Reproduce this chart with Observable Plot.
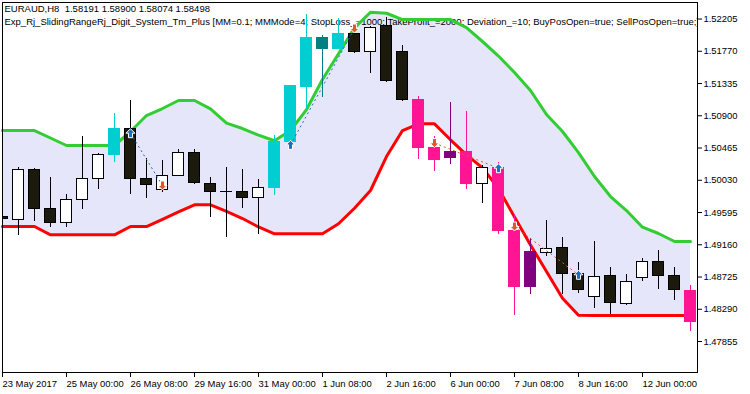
<!DOCTYPE html>
<html>
<head>
<meta charset="utf-8">
<script src="https://cdn.jsdelivr.net/npm/d3@7"></script>
<script src="https://cdn.jsdelivr.net/npm/@observablehq/plot@0.6"></script>
<style>
  html, body { margin: 0; padding: 0; background: #ffffff; }
  #chart { width: 750px; height: 394px; }
</style>
</head>
<body>
<div id="chart"></div>
<script>
// ---- Data (EURAUD, H8) ----
const titleLines = [
  "EURAUD,H8  1.58191 1.58900 1.58074 1.58498",
  "Exp_Rj_SlidingRangeRj_Digit_System_Tm_Plus [MM=0.1; MMMode=4; StopLoss_=1000; TakeProfit_=2000; Deviation_=10; BuyPosOpen=true; SellPosOpen=true;]"
];

const opens  = [1.49541,1.49497,1.50162,1.49649,1.49456,1.49766,1.50050,1.50368,1.50715,1.50050,1.49901,1.50090,1.50404,1.49982,1.49878,1.49878,1.49788,1.49923,1.50543,1.51285,1.51951,1.51798,1.52009,1.51757,1.52108,1.51767,1.51119,1.50472,1.50327,1.50418,1.49977,1.50198,1.49352,1.48588,1.49046,1.49110,1.48768,1.48453,1.48732,1.48364,1.48709,1.48921,1.48745,1.48530];
const highs  = [1.49555,1.50198,1.50184,1.50063,1.49838,1.50620,1.50395,1.50930,1.51106,1.50319,1.50296,1.50441,1.50441,1.50063,1.50198,1.50175,1.50044,1.50630,1.51308,1.52266,1.51982,1.52212,1.52050,1.52104,1.52229,1.51848,1.51160,1.50620,1.51079,1.50957,1.50229,1.50273,1.49564,1.49244,1.49487,1.49258,1.48921,1.49204,1.48853,1.48759,1.48975,1.49083,1.48853,1.48610];
const lows   = [1.49494,1.49285,1.49478,1.49389,1.49397,1.49640,1.49901,1.50273,1.49838,1.49788,1.49869,1.50081,1.49973,1.49532,1.49262,1.49653,1.49298,1.49820,1.50526,1.50988,1.51142,1.51794,1.51736,1.51474,1.51355,1.51096,1.50314,1.50152,1.50247,1.49909,1.49721,1.49298,1.48206,1.48493,1.49006,1.48493,1.48507,1.48300,1.48219,1.48345,1.48664,1.48557,1.48408,1.47990];
const closes = [1.49507,1.50162,1.49640,1.49451,1.49770,1.50050,1.50373,1.50715,1.50044,1.49963,1.50090,1.50404,1.49999,1.49869,1.49874,1.49788,1.49932,1.50553,1.51295,1.51951,1.51798,1.52009,1.51757,1.52086,1.51366,1.51110,1.50462,1.50310,1.50418,1.49973,1.50198,1.49339,1.48588,1.49056,1.49105,1.48763,1.48547,1.48728,1.48372,1.48664,1.48921,1.48736,1.48547,1.48115];
// signal colouring of candles: 1 = buy trend, -1 = sell trend, 0 = none
const signal = [0,0,0,0,0,0,0,1,0,0,0,0,0,0,0,0,0,1,1,1,1,1,0,0,0,0,-1,-1,-1,-1,0,-1,-1,-1,0,0,0,0,0,0,0,0,0,-1];

// SlidingRange channel
const upperBand = [1.50701,1.50701,1.50701,1.50600,1.50499,1.50499,1.50499,1.50499,1.50688,1.50903,1.50998,1.51106,1.51106,1.50994,1.50800,1.50728,1.50639,1.50563,1.50701,1.50984,1.51389,1.51737,1.52086,1.52297,1.52283,1.52198,1.52198,1.52198,1.52198,1.52090,1.51902,1.51706,1.51483,1.51241,1.50917,1.50688,1.50404,1.50081,1.49811,1.49622,1.49397,1.49312,1.49204,1.49204];
const lowerBand = [1.49406,1.49406,1.49406,1.49294,1.49294,1.49294,1.49294,1.49294,1.49406,1.49406,1.49502,1.49603,1.49699,1.49699,1.49609,1.49514,1.49400,1.49308,1.49308,1.49308,1.49308,1.49443,1.49652,1.49892,1.50350,1.50701,1.50791,1.50791,1.50576,1.50373,1.50198,1.49919,1.49534,1.49158,1.48799,1.48439,1.48210,1.48206,1.48206,1.48206,1.48206,1.48206,1.48206,1.48206];

// Deals
const buyBars    = [8, 18, 31, 36];
const buyPrices  = [1.50665, 1.50508, 1.50193, 1.48755];
const sellBars   = [10, 22, 27, 32];
const sellPrices = [1.49959, 1.52077, 1.50532, 1.49406];
// positions: [open bar, open price, close bar, close price]
const longTrades  = [[8, 1.50665, 10, 1.49959], [18, 1.50508, 22, 1.52077]];
const shortTrades = [[27, 1.50532, 31, 1.50193], [32, 1.49406, 36, 1.48755]];

// Axes
const xTickBars   = [0, 4, 8, 12, 16, 20, 24, 28, 32, 36, 40];
const xTickLabels = ["23 May 2017","25 May 00:00","26 May 08:00","29 May 16:00","31 May 00:00","1 Jun 08:00","2 Jun 16:00","6 Jun 00:00","7 Jun 08:00","8 Jun 16:00","12 Jun 00:00"];
const yTicks = [1.52205,1.51770,1.51335,1.50900,1.50465,1.50030,1.49595,1.49160,1.48725,1.48290,1.47855];

// ---- Build ----
const COLORS = {
  buyUp: "#00CED1", buyDown: "#008080",
  sellDown: "#FF1493", sellUp: "#800080",
  bear: "#1b1a0c", bullFill: "#ffffff", wick: "#000000"
};
const bars = d3.range(opens.length).map(i => {
  const o = opens[i], c = closes[i], s = signal[i], bull = c >= o;
  let body, stroke, wick;
  if (s === 1) { body = bull ? COLORS.buyUp : COLORS.buyDown; stroke = body; wick = body; }
  else if (s === -1) { body = bull ? COLORS.sellUp : COLORS.sellDown; stroke = body; wick = body; }
  else { body = bull ? COLORS.bullFill : COLORS.bear; stroke = "#000000"; wick = "#000000"; }
  return {i, o, h: highs[i], l: lows[i], c, body, stroke, wick, up: upperBand[i], lo: lowerBand[i]};
});
const buys = buyBars.map((b, j) => ({i: b, p: buyPrices[j]}));
const sells = sellBars.map((b, j) => ({i: b, p: sellPrices[j]}));
const longs = longTrades.map(t => ({x1: t[0], y1: t[1], x2: t[2], y2: t[3]}));
const shorts = shortTrades.map(t => ({x1: t[0], y1: t[1], x2: t[2], y2: t[3]}));

const arrowUp = {draw(ctx, size) {
  const r = Math.sqrt(size / Math.PI);
  ctx.moveTo(0, -r); ctx.lineTo(r, 0); ctx.lineTo(r * 0.45, 0); ctx.lineTo(r * 0.45, r);
  ctx.lineTo(-r * 0.45, r); ctx.lineTo(-r * 0.45, 0); ctx.lineTo(-r, 0); ctx.closePath();
}};
const arrowDown = {draw(ctx, size) {
  const r = Math.sqrt(size / Math.PI);
  ctx.moveTo(0, r); ctx.lineTo(r, 0); ctx.lineTo(r * 0.45, 0); ctx.lineTo(r * 0.45, -r);
  ctx.lineTo(-r * 0.45, -r); ctx.lineTo(-r * 0.45, 0); ctx.lineTo(-r, 0); ctx.closePath();
}};

const HALF = 0.32; // half body width in bar units
const FONT = "Tahoma, 'Liberation Sans', Arial, sans-serif";
const FS = 9.45;
const TFS = 9.5;

const chart = Plot.plot({
  width: 750,
  height: 394,
  marginTop: 2,
  marginLeft: 2,
  marginRight: 53,
  marginBottom: 22,
  style: {fontFamily: FONT, fontSize: FS + "px", color: "#000", background: "#fff", overflow: "visible"},
  x: {type: "linear", domain: [0, 43.4375]},
  y: {type: "linear", domain: [1.47437, 1.52428]},
  marks: [
    Plot.areaY(bars, {x: "i", y1: "lo", y2: "up", fill: "#E6E6FA"}),
    Plot.text([titleLines[0]], {text: d => d, frameAnchor: "top-left", dx: 2, dy: 3, textAnchor: "start", lineAnchor: "top", fill: "#000", fontSize: TFS}),
    Plot.text([titleLines[1]], {text: d => d, frameAnchor: "top-left", dx: 2, dy: 16, textAnchor: "start", lineAnchor: "top", fill: "#000", fontSize: TFS, clip: true}),
    Plot.line(bars, {x: "i", y: "up", stroke: "#32CD32", strokeWidth: 3, strokeLinejoin: "round"}),
    Plot.line(bars, {x: "i", y: "lo", stroke: "#FF0000", strokeWidth: 3, strokeLinejoin: "round"}),
    Plot.ruleX(bars, {x: "i", y1: "l", y2: "h", stroke: d => d.wick, strokeWidth: 1, clip: true, shapeRendering: "crispEdges"}),
    Plot.rect(bars, {x1: d => d.i - HALF, x2: d => d.i + HALF, y1: "o", y2: "c", fill: d => d.body, stroke: d => d.stroke, strokeWidth: 1, clip: true, shapeRendering: "crispEdges"}),
    Plot.link(longs, {x1: "x1", y1: "y1", x2: "x2", y2: "y2", stroke: "#1f6fc0", strokeWidth: 1, strokeDasharray: "2,3"}),
    Plot.link(shorts, {x1: "x1", y1: "y1", x2: "x2", y2: "y2", stroke: "#e8532a", strokeWidth: 1, strokeDasharray: "2,3"}),
    Plot.dot(buys, {x: "i", y: "p", symbol: arrowUp, r: 4.5, fill: "#1f6fc0", stroke: "#ffffff", strokeWidth: 1}),
    Plot.dot(sells, {x: "i", y: "p", symbol: arrowDown, r: 4.5, fill: "#e8532a", stroke: "#ffffff", strokeWidth: 1}),
    Plot.frame({stroke: "#000", strokeWidth: 1}),
    Plot.axisY({anchor: "right", ticks: yTicks, tickFormat: d3.format(".5f"), tickSize: 4, tickPadding: 2, label: null, fontSize: FS}),
    Plot.axisX({ticks: xTickBars, tickFormat: d => xTickLabels[xTickBars.indexOf(d)], textAnchor: "start", tickSize: 5, tickPadding: 3, dx: 0, label: null, fontSize: FS})
  ]
});
document.getElementById("chart").appendChild(chart);
</script>
</body>
</html>
